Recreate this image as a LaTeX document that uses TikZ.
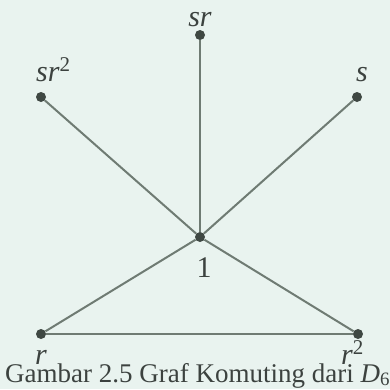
\documentclass[tikz,border=0pt]{standalone}
\usepackage{fontspec}
\setmainfont{Liberation Serif}
\usepackage{xcolor}
\usetikzlibrary{positioning}

\definecolor{bgmint}{HTML}{E9F3EF}
\definecolor{edgegrey}{HTML}{6F7B73}
\definecolor{dotgrey}{HTML}{3F4843}
\definecolor{textgrey}{HTML}{3C423F}

\begin{document}
\begin{tikzpicture}[x=1pt,y=-1pt,
    vtx/.style={circle,fill=dotgrey,inner sep=0pt,minimum size=10pt},
    edge/.style={draw=edgegrey,line width=2pt},
    lbl/.style={font=\fontsize{30}{32}\selectfont,text=textgrey,inner sep=0pt},
    captext/.style={font=\fontsize{27}{30}\selectfont,text=textgrey,inner sep=0pt},
  ]
  \fill[bgmint] (0,0) rectangle (390,389);
  \useasboundingbox (0,0) rectangle (390,389);

  % Vertices
  \node[vtx] (e)   at (200,237) {};
  \node[vtx] (sr)  at (200,35)  {};
  \node[vtx] (sr2) at (41,97)   {};
  \node[vtx] (s)   at (357,97)  {};
  \node[vtx] (r)   at (41,334)  {};
  \node[vtx] (r2)  at (358,334) {};

  % Edges
  \draw[edge] (e) -- (sr);
  \draw[edge] (e) -- (sr2);
  \draw[edge] (e) -- (s);
  \draw[edge] (e) -- (r);
  \draw[edge] (e) -- (r2);
  \draw[edge] (r) -- (r2);

  % Labels
  \node[lbl,anchor=base] (lsr) at (200,26) {\textit{sr}};
  \node[lbl,anchor=base west] (lsr2) at (36,81) {\textit{sr}\textsuperscript{2}};
  \node[lbl,anchor=base] (ls) at (362,81) {\textit{s}};
  \node[lbl,anchor=base] (le) at (204,277) {1};
  \node[lbl,anchor=base west] (lr) at (35,364) {\textit{r}};
  \node[lbl,anchor=base west] (lr2) at (341,364) {\textit{r}\textsuperscript{2}};

  % Caption
  \node[captext,anchor=base west] (caption) at (5,382) {Gambar 2.5 Graf Komuting dari \textit{D}\textsubscript{6}};
\end{tikzpicture}
\end{document}
